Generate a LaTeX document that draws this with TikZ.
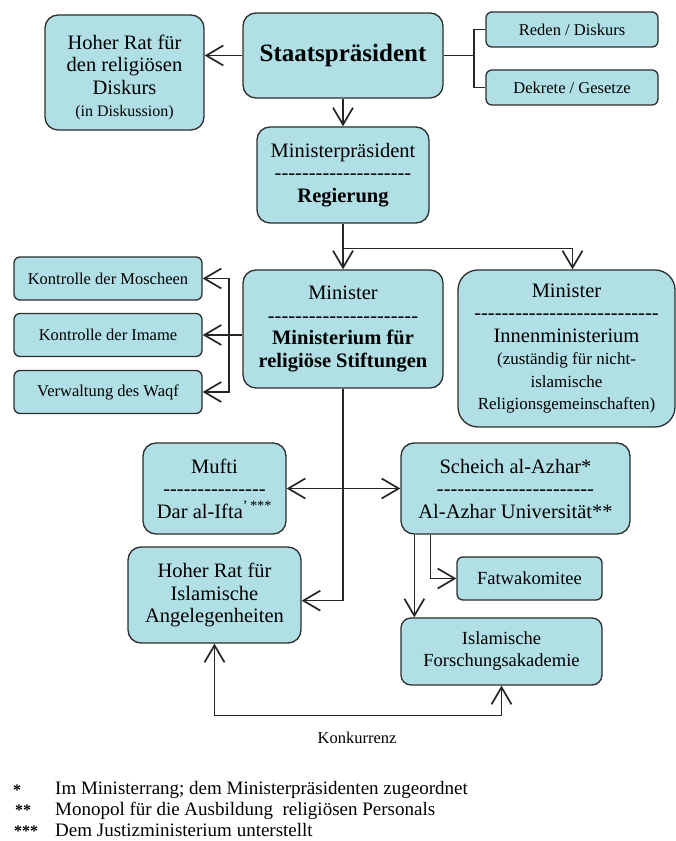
\documentclass[tikz,border=0pt]{standalone}
\usepackage{fontspec}
\setmainfont{Liberation Serif}
\usetikzlibrary{positioning,arrows.meta}
\definecolor{boxfill}{RGB}{176,224,230}
\definecolor{boxline}{RGB}{45,45,45}
\newcommand{\dashrow}[1]{\foreach \i in {1,...,#1}{-{}}}
\tikzset{
  orgbox/.style={draw=boxline, fill=boxfill, line width=1.3pt, rounded corners=13pt,
    align=center, inner sep=0pt, font=\fontsize{20.5}{22.5}\selectfont},
  smallbox/.style={orgbox, rounded corners=6pt, font=\fontsize{16.5}{20}\selectfont},
  sidebox/.style={smallbox, minimum width=188pt, minimum height=43pt},
  link/.style={draw=black!85, line width=1.7pt},
  arr/.style={link, -{Straight Barb[length=17pt,width=20pt]}},
  twoarr/.style={link, {Straight Barb[length=17pt,width=20pt]}-{Straight Barb[length=17pt,width=20pt]}},
  foot/.style={anchor=base west, inner sep=0pt, font=\fontsize{19}{22}\selectfont},
  star/.style={anchor=base west, inner sep=0pt, font=\bfseries\fontsize{16}{18}\selectfont},
}

\begin{document}
\begin{tikzpicture}[node distance=2cm, on grid]
  \useasboundingbox (0,0) rectangle (676pt,841pt);

  % top level
  \node[orgbox, minimum width=200pt, minimum height=85pt, font=\bfseries\fontsize{25}{30}\selectfont] (staat) at (343pt,785.5pt) {Staatspräsident};
  \node[orgbox, minimum width=159pt, minimum height=115pt] (diskurs) [below left=17pt and 218.5pt of staat] {\rule{0pt}{24pt}Hoher Rat für\\den religiösen\\Diskurs\\{\fontsize{16}{18}\selectfont (in Diskussion)}};
  \node[smallbox, minimum width=172pt, minimum height=35pt] (reden) [above right=26pt and 229pt of staat] {Reden / Diskurs};
  \node[smallbox, minimum width=172pt, minimum height=35pt] (dekrete) [below=58pt of reden] {Dekrete / Gesetze};
  \node[orgbox, minimum width=172pt, minimum height=96pt] (mp) [below=119.5pt of staat] {Ministerpräsident\\\dashrow{20}\\\textbf{Regierung}};

  % ministries
  \node[orgbox, minimum width=200pt, minimum height=118pt] (minrel) [below=154pt of mp] {Minister\\\dashrow{22}\\\textbf{Ministerium für}\\\textbf{religiöse Stiftungen}};
  \node[orgbox, rounded corners=20pt, minimum width=217pt, minimum height=157pt] (innen) [below right=19.5pt and 223.5pt of minrel] {Minister\\\dashrow{27}\\Innenministerium\\{\fontsize{17}{19}\selectfont (zuständig für nicht-}\\{\fontsize{17}{19}\selectfont islamische}\\{\fontsize{17}{19}\selectfont Religionsgemeinschaften)}};
  \node[sidebox] (imame) [below left=6pt and 235pt of minrel] {Kontrolle der Imame};
  \node[sidebox] (moscheen) [above=56.5pt of imame] {Kontrolle der Moscheen};
  \node[sidebox] (waqf) [below=57pt of imame] {Verwaltung des Waqf};

  % religious institutions
  \node[orgbox, minimum width=143pt, minimum height=91pt] (mufti) [below left=159.5pt and 128.5pt of minrel] {Mufti\\\dashrow{15}\\Dar al-Ifta\textsuperscript{’\,***}};
  \node[orgbox, minimum width=229pt, minimum height=91pt] (scheich) [right=301pt of mufti] {Scheich al-Azhar*\\\dashrow{23}\\Al-Azhar Universität**};
  \node[orgbox, minimum width=173pt, minimum height=96pt] (hrislam) [below=106.5pt of mufti] {Hoher Rat für\\Islamische\\Angelegenheiten};
  \node[smallbox, minimum width=145pt, minimum height=43pt, font=\fontsize{18.5}{22}\selectfont] (fatwa) [below right=90pt and 14pt of scheich] {Fatwakomitee};
  \node[smallbox, rounded corners=10pt, minimum width=201pt, minimum height=67pt, font=\fontsize{18.5}{22}\selectfont] (akad) [below left=163pt and 14pt of scheich] {Islamische\\Forschungsakademie};
  \node[inner sep=0pt, font=\fontsize{16.5}{20}\selectfont] (konk) at (357pt,103pt) {Konkurrenz};

  % connectors
  \draw[arr] (staat.west) -- (staat.west -| diskurs.east);
  \draw[link] (staat.east) -- ++(30pt,0) coordinate (fork);
  \draw[link] (reden.west) -| (fork) |- (dekrete.west);
  \draw[arr] (staat) -- (mp);
  \draw[link] (mp.south) -- ++(0,-25pt) coordinate (split);
  \draw[arr] (split) -- (minrel);
  \draw[arr] (split) -| ([xshift=6pt]innen.north);

  \draw[arr] (minrel.west |- imame) -- (imame);
  \coordinate (lfork) at ([xshift=26pt]imame.east);
  \draw[arr] (lfork) |- (moscheen);
  \draw[arr] (lfork) |- (waqf);

  \draw[link] (minrel.south) -- ++(0,-212pt) coordinate (mbend);
  \draw[arr] (mbend) -- (mbend -| hrislam.east);
  \draw[twoarr] (mufti.east) -- (mufti.east -| scheich.west);
  \draw[arr] ([xshift=14pt]scheich.south west) -- ([xshift=14pt]scheich.south west |- akad.north);
  \draw[arr] ([xshift=30pt]scheich.south west) |- (fatwa);

  \coordinate (kbend) at ([yshift=-72pt]hrislam.south);
  \draw[arr] (kbend) -- (hrislam);
  \draw[arr] (kbend) -| (akad);

  % footnotes
  \node[star] (star1) at (13pt,45pt) {*};
  \node[foot] (fn1) at (55pt,46pt) {Im Ministerrang; dem Ministerpräsidenten zugeordnet};
  \node[star] (star2) at (15pt,25pt) {**};
  \node[foot] (fn2) at (55pt,25.5pt) {Monopol für die Ausbildung\ \ religiösen Personals};
  \node[star] (star3) at (14pt,4.5pt) {***};
  \node[foot] (fn3) at (55pt,5pt) {Dem Justizministerium unterstellt};
\end{tikzpicture}
\end{document}
